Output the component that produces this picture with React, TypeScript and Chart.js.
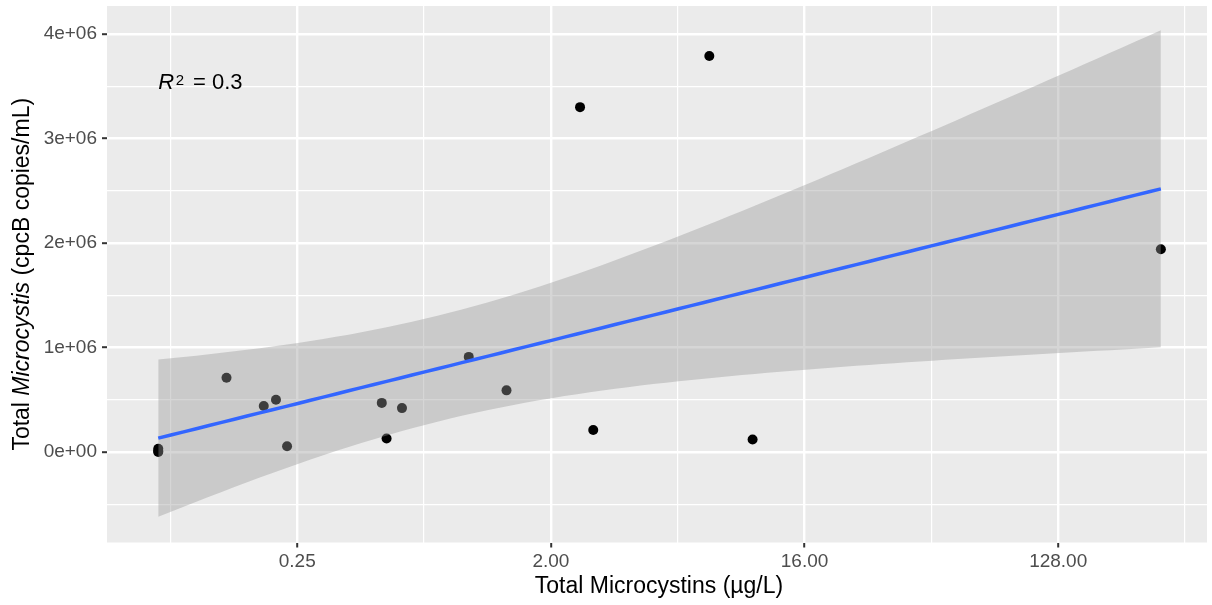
import React, { useEffect, useRef } from 'react';
import { Chart, registerables } from 'chart.js';

Chart.register(...registerables);

// ---- data ----
const microcystins = [0.08, 0.08, 0.08, 0.14, 0.19, 0.21, 0.23, 0.5, 0.52, 0.59, 1.02, 1.39, 2.54, 2.83, 7.33, 10.45, 297];
const cpcBCopies = [0, 10000, 30000, 710000, 440000, 500000, 55000, 470000, 130000, 420000, 910000, 590000, 3300000, 210000, 3790000, 120000, 1940000];

const xTickValues = [0.25, 2, 16, 128];
const xTickLabels = ['0.25', '2.00', '16.00', '128.00'];
const yTickValues = [0, 1e6, 2e6, 3e6, 4e6];
const yTickLabels = ['0e+00', '1e+06', '2e+06', '3e+06', '4e+06'];
const r2Text = '0.3';

// ---- axis limits / layout constants ----
const X_MIN_LOG2 = -4.25;
const X_MAX_LOG2 = 8.76;
const Y_MIN = -866000;
const Y_MAX = 4268000;
const R2_ANCHOR_X = 0.08;
const R2_ANCHOR_Y = 3.47e6;

const FONT = '"Liberation Sans", Arial, Helvetica, sans-serif';

// ---- linear model on log2(x), like geom_smooth(method = "lm") ----
function tQuantile975(df: number): number {
  const z = 1.959963985;
  const z3 = z ** 3, z5 = z ** 5, z7 = z ** 7;
  return z + (z3 + z) / (4 * df) + (5 * z5 + 16 * z3 + 3 * z) / (96 * df * df) +
    (3 * z7 + 19 * z5 + 17 * z3 - 15 * z) / (384 * df ** 3);
}

function fitModel() {
  const lx = microcystins.map((v) => Math.log2(v));
  const n = lx.length;
  const mx = lx.reduce((a, b) => a + b, 0) / n;
  const my = cpcBCopies.reduce((a, b) => a + b, 0) / n;
  let sxx = 0, sxy = 0, syy = 0;
  for (let i = 0; i < n; i++) {
    const dx = lx[i] - mx, dy = cpcBCopies[i] - my;
    sxx += dx * dx; sxy += dx * dy; syy += dy * dy;
  }
  const b = sxy / sxx;
  const a = my - b * mx;
  const s = Math.sqrt((syy - b * sxy) / (n - 2));
  const t = tQuantile975(n - 2);
  const lo = Math.min(...lx), hi = Math.max(...lx);
  const fit: { x: number; y: number }[] = [];
  const upper: { x: number; y: number }[] = [];
  const lower: { x: number; y: number }[] = [];
  const steps = 80;
  for (let k = 0; k < steps; k++) {
    const x = lo + ((hi - lo) * k) / (steps - 1);
    const yhat = a + b * x;
    const se = s * Math.sqrt(1 / n + ((x - mx) * (x - mx)) / sxx);
    fit.push({ x, y: yhat });
    upper.push({ x, y: yhat + t * se });
    lower.push({ x, y: yhat - t * se });
  }
  return { fit, upper, lower };
}

const near = (a: number, b: number) => Math.abs(a - b) < 1e-6;
const xMajorLog = xTickValues.map((v) => Math.log2(v));
const xStep = xMajorLog[1] - xMajorLog[0];
const xAllTicks = (() => {
  const out: number[] = [];
  out.push(xMajorLog[0] - xStep / 2);
  xMajorLog.forEach((v) => { out.push(v); out.push(v + xStep / 2); });
  return out.filter((v) => v >= X_MIN_LOG2 && v <= X_MAX_LOG2);
})();
const yStep = yTickValues[1] - yTickValues[0];
const yAllTicks = (() => {
  const out: number[] = [];
  out.push(yTickValues[0] - yStep / 2);
  yTickValues.forEach((v) => { out.push(v); out.push(v + yStep / 2); });
  return out.filter((v) => v >= Y_MIN && v <= Y_MAX);
})();
const isXMajor = (v: number) => xMajorLog.some((m) => near(m, v));
const isYMajor = (v: number) => yTickValues.some((m) => Math.abs(m - v) < 1);

const ggPlugin = {
  id: 'ggDecor',
  beforeDraw(chart: any) {
    const { ctx, chartArea: ca } = chart;
    ctx.save();
    ctx.fillStyle = '#ffffff';
    ctx.fillRect(0, 0, chart.width, chart.height);
    ctx.fillStyle = '#EBEBEB';
    ctx.fillRect(ca.left, ca.top, ca.right - ca.left, ca.bottom - ca.top);
    ctx.restore();
  },
  afterDraw(chart: any) {
    const { ctx, chartArea: ca } = chart;
    const xs = chart.scales.x, ys = chart.scales.y;
    ctx.save();
    ctx.fillStyle = '#000000';
    ctx.textBaseline = 'alphabetic';
    // x title
    ctx.font = `23px ${FONT}`;
    ctx.textAlign = 'center';
    ctx.fillText('Total Microcystins (µg/L)', (ca.left + ca.right) / 2 + 2, 593);
    // y title with italic genus
    const parts = [
      { t: 'Total ', f: `23px ${FONT}` },
      { t: 'Microcystis', f: `italic 23px ${FONT}` },
      { t: ' (cpcB copies/mL)', f: `23px ${FONT}` },
    ];
    let total = 0;
    const widths = parts.map((p) => { ctx.font = p.f; const w = ctx.measureText(p.t).width; total += w; return w; });
    ctx.save();
    ctx.translate(29, (ca.top + ca.bottom) / 2);
    ctx.rotate(-Math.PI / 2);
    ctx.textAlign = 'left';
    let px = -total / 2;
    parts.forEach((p, i) => { ctx.font = p.f; ctx.fillText(p.t, px, 0); px += widths[i]; });
    ctx.restore();
    // R^2 annotation
    const x0 = xs.getPixelForValue(Math.log2(R2_ANCHOR_X));
    const yb = ys.getPixelForValue(R2_ANCHOR_Y);
    ctx.textAlign = 'left';
    ctx.font = `italic 22px ${FONT}`;
    ctx.fillText('R', x0, yb);
    let cx = x0 + ctx.measureText('R').width + 1.5;
    ctx.font = `15px ${FONT}`;
    ctx.fillText('2', cx, yb - 4.5);
    cx += ctx.measureText('2').width + 9;
    ctx.font = `22px ${FONT}`;
    ctx.fillText('= ' + r2Text, cx, yb);
    ctx.restore();
  },
};

export default function App() {
  const ref = useRef<HTMLCanvasElement | null>(null);
  useEffect(() => {
    document.body.style.margin = '0';
    const canvas = ref.current;
    if (!canvas) return;
    const { fit, upper, lower } = fitModel();
    const points = microcystins.map((v, i) => ({ x: Math.log2(v), y: cpcBCopies[i] }));
    const chart = new Chart(canvas, {
      type: 'line',
      data: {
        datasets: [
          {
            label: 'samples',
            data: points,
            showLine: false,
            pointRadius: 5,
            pointBorderWidth: 0,
            pointBackgroundColor: '#000000',
            pointBorderColor: '#000000',
            order: 3,
          },
          {
            label: 'upper',
            data: upper,
            borderWidth: 0,
            borderColor: 'rgba(0,0,0,0)',
            backgroundColor: 'rgba(153,153,153,0.4)',
            pointRadius: 0,
            fill: '+1',
            order: 2,
          },
          {
            label: 'lower',
            data: lower,
            borderWidth: 0,
            borderColor: 'rgba(0,0,0,0)',
            pointRadius: 0,
            fill: false,
            order: 2,
          },
          {
            label: 'fit',
            data: fit,
            borderColor: '#3366FF',
            borderWidth: 3.5,
            pointRadius: 0,
            fill: false,
            order: 1,
          },
        ],
      },
      options: {
        animation: false,
        responsive: false,
        devicePixelRatio: 1,
        events: [],
        layout: { padding: { top: 6, left: 0, right: 0, bottom: 0 } },
        plugins: { legend: { display: false }, tooltip: { enabled: false }, title: { display: false } },
        scales: {
          x: {
            type: 'linear',
            min: X_MIN_LOG2,
            max: X_MAX_LOG2,
            afterBuildTicks: (scale: any) => { scale.ticks = xAllTicks.map((v) => ({ value: v })); },
            afterFit: (scale: any) => {
              scale.height = 62.5;
              scale.paddingLeft = 0; scale.paddingRight = 0; scale.paddingTop = 0; scale.paddingBottom = 0;
            },
            border: { display: false },
            grid: {
              color: '#FFFFFF',
              lineWidth: (c: any) => (isXMajor(c.tick.value) ? 2.4 : 1.2),
              tickColor: (c: any) => (isXMajor(c.tick.value) ? '#333333' : 'rgba(0,0,0,0)'),
              tickWidth: 2,
              tickLength: 5,
            },
            ticks: {
              autoSkip: false,
              maxRotation: 0,
              minRotation: 0,
              padding: 3,
              color: '#4D4D4D',
              font: { family: FONT, size: 19 },
              callback: (value: any) => {
                const i = xMajorLog.findIndex((m) => near(m, Number(value)));
                return i >= 0 ? xTickLabels[i] : '';
              },
            },
          },
          y: {
            type: 'linear',
            min: Y_MIN,
            max: Y_MAX,
            afterBuildTicks: (scale: any) => { scale.ticks = yAllTicks.map((v) => ({ value: v })); },
            afterFit: (scale: any) => {
              scale.width = 107;
              scale.paddingLeft = 0; scale.paddingRight = 0; scale.paddingTop = 0; scale.paddingBottom = 0;
            },
            border: { display: false },
            grid: {
              color: '#FFFFFF',
              lineWidth: (c: any) => (isYMajor(c.tick.value) ? 2.4 : 1.2),
              tickColor: (c: any) => (isYMajor(c.tick.value) ? '#333333' : 'rgba(0,0,0,0)'),
              tickWidth: 2,
              tickLength: 5,
            },
            ticks: {
              autoSkip: false,
              padding: 5,
              color: '#4D4D4D',
              font: { family: FONT, size: 19 },
              callback: (value: any) => {
                const i = yTickValues.findIndex((m) => Math.abs(m - Number(value)) < 1);
                return i >= 0 ? yTickLabels[i] : '';
              },
            },
          },
        },
      } as any,
      plugins: [ggPlugin],
    });
    return () => chart.destroy();
  }, []);
  return (
    <div style={{ position: 'absolute', left: 0, top: 0, width: 1212, height: 605 }}>
      <canvas ref={ref} width={1212} height={605} style={{ display: 'block', width: 1212, height: 605 }} />
    </div>
  );
}
